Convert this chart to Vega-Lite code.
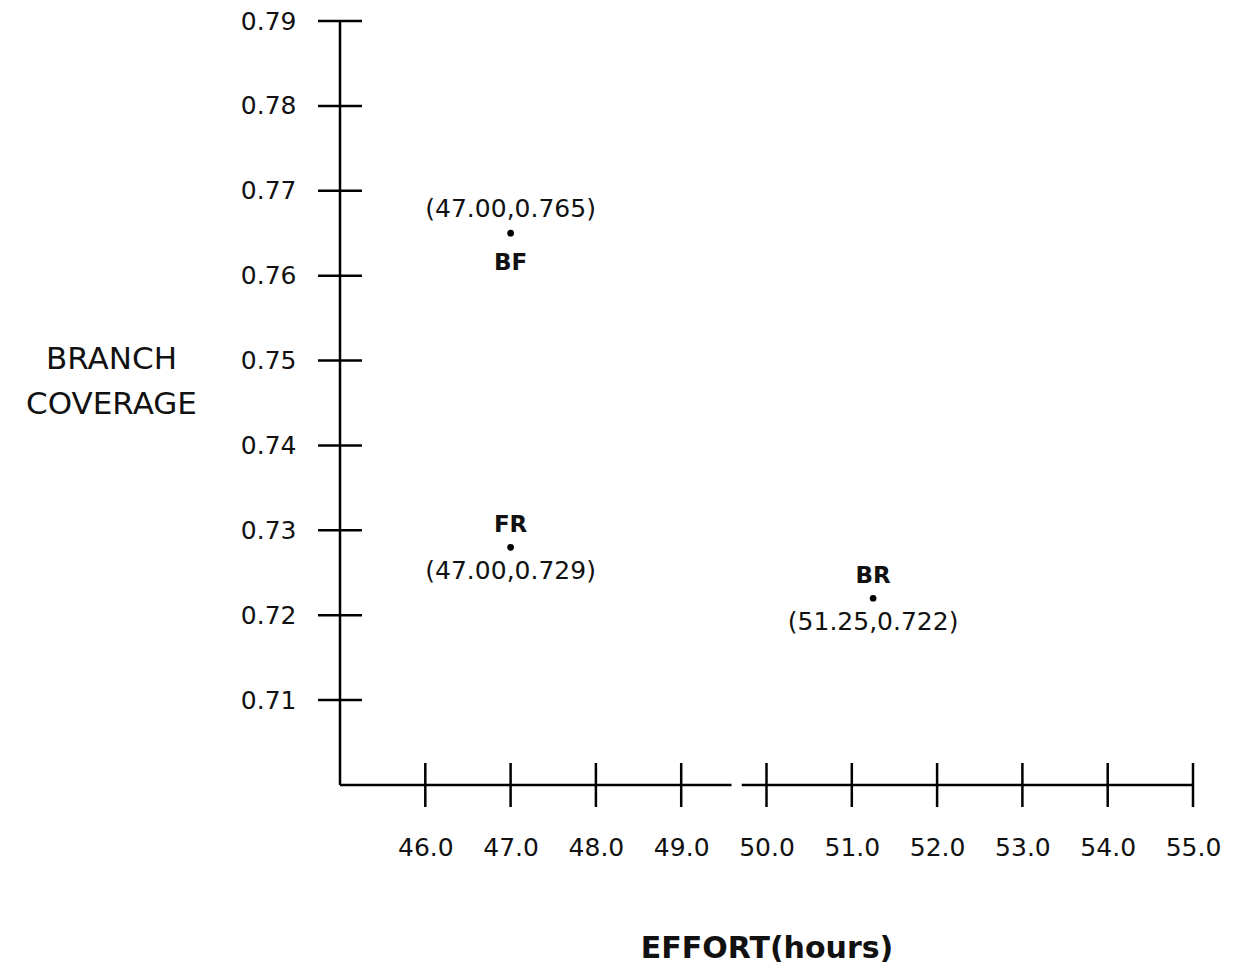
{
  "$schema": "https://vega.github.io/schema/vega-lite/v6.json",
  "autosize": "none",
  "width": 853,
  "height": 764,
  "padding": {"left": 340, "top": 21, "right": 41, "bottom": 188},
  "background": "white",
  "config": {"view": {"stroke": null}, "font": "DejaVu Sans"},
  "datasets": {
    "points": [
      {"effort": 47.0, "coverage": 0.765, "name": "BF", "coord": "(47.00,0.765)", "pos": "coord_above"},
      {"effort": 47.0, "coverage": 0.728, "name": "FR", "coord": "(47.00,0.729)", "pos": "coord_below"},
      {"effort": 51.25, "coverage": 0.722, "name": "BR", "coord": "(51.25,0.722)", "pos": "coord_below"}
    ],
    "yticks": [{"v": 0.71}, {"v": 0.72}, {"v": 0.73}, {"v": 0.74}, {"v": 0.75}, {"v": 0.76}, {"v": 0.77}, {"v": 0.78}, {"v": 0.79}],
    "xticks": [{"v": 46}, {"v": 47}, {"v": 48}, {"v": 49}, {"v": 50}, {"v": 51}, {"v": 52}, {"v": 53}, {"v": 54}, {"v": 55}],
    "xaxis": [{"a": 45, "b": 49.59}, {"a": 49.71, "b": 55}]
  },
  "layer": [
    {
      "data": {"name": "xaxis"},
      "mark": {"type": "rule", "strokeWidth": 2.5, "color": "black"},
      "encoding": {
        "x": {
          "field": "a", "type": "quantitative",
          "scale": {"domain": [45, 55], "nice": false, "zero": false},
          "axis": {
            "values": [46, 47, 48, 49, 50, 51, 52, 53, 54, 55],
            "format": ".1f", "domain": false, "ticks": false, "grid": false,
            "labelFlush": false, "labelOverlap": false, "labelBound": false,
            "labelPadding": 50, "labelFontSize": 25, "labelColor": "#111", "labelFont": "DejaVu Sans",
            "title": "EFFORT(hours)", "titleFontSize": 30, "titleFontWeight": "bold", "titleColor": "#111",
            "titleBaseline": "alphabetic", "titleY": 172, "titleX": 426.5, "titleAlign": "center"
          }
        },
        "x2": {"field": "b"},
        "y": {
          "datum": 0.70, "type": "quantitative",
          "scale": {"domain": [0.70, 0.79], "nice": false, "zero": false},
          "axis": {
            "values": [0.71, 0.72, 0.73, 0.74, 0.75, 0.76, 0.77, 0.78, 0.79],
            "format": ".2f", "domain": false, "ticks": false, "grid": false,
            "labelFlush": false, "labelOverlap": false, "labelBound": false,
            "labelPadding": 44, "labelFontSize": 25, "labelColor": "#111", "labelFont": "DejaVu Sans",
            "title": ["BRANCH", "COVERAGE"], "titleFontSize": 31, "titleFontWeight": "normal", "titleColor": "#111",
            "titleAngle": 0, "titleAlign": "center", "titleBaseline": "alphabetic",
            "titleX": -229, "titleY": 347, "titleLineHeight": 45
          }
        }
      }
    },
    {
      "data": {"values": [{"a": 0.70, "b": 0.79}]},
      "mark": {"type": "rule", "strokeWidth": 2.5, "color": "black"},
      "encoding": {
        "x": {"datum": 45, "type": "quantitative"},
        "y": {"field": "a", "type": "quantitative"},
        "y2": {"field": "b"}
      }
    },
    {
      "data": {"name": "yticks"},
      "mark": {"type": "tick", "orient": "horizontal", "size": 44, "thickness": 2.5, "color": "black", "opacity": 1},
      "encoding": {
        "x": {"datum": 45, "type": "quantitative"},
        "y": {"field": "v", "type": "quantitative"}
      }
    },
    {
      "data": {"name": "xticks"},
      "mark": {"type": "tick", "orient": "vertical", "size": 44, "thickness": 2.5, "color": "black", "opacity": 1},
      "encoding": {
        "x": {"field": "v", "type": "quantitative"},
        "y": {"datum": 0.70, "type": "quantitative"}
      }
    },
    {
      "data": {"name": "points"},
      "mark": {"type": "circle", "size": 45, "color": "black", "opacity": 1},
      "encoding": {
        "x": {"field": "effort", "type": "quantitative"},
        "y": {"field": "coverage", "type": "quantitative"}
      }
    },
    {
      "data": {"name": "points"},
      "transform": [{"filter": "datum.pos === 'coord_above'"}],
      "mark": {"type": "text", "fontSize": 25, "dy": -16, "baseline": "alphabetic", "color": "#111"},
      "encoding": {
        "x": {"field": "effort", "type": "quantitative"},
        "y": {"field": "coverage", "type": "quantitative"},
        "text": {"field": "coord"}
      }
    },
    {
      "data": {"name": "points"},
      "transform": [{"filter": "datum.pos === 'coord_above'"}],
      "mark": {"type": "text", "fontSize": 23, "fontWeight": "bold", "dy": 37, "baseline": "alphabetic", "color": "#111"},
      "encoding": {
        "x": {"field": "effort", "type": "quantitative"},
        "y": {"field": "coverage", "type": "quantitative"},
        "text": {"field": "name"}
      }
    },
    {
      "data": {"name": "points"},
      "transform": [{"filter": "datum.pos === 'coord_below'"}],
      "mark": {"type": "text", "fontSize": 23, "fontWeight": "bold", "dy": -15, "baseline": "alphabetic", "color": "#111"},
      "encoding": {
        "x": {"field": "effort", "type": "quantitative"},
        "y": {"field": "coverage", "type": "quantitative"},
        "text": {"field": "name"}
      }
    },
    {
      "data": {"name": "points"},
      "transform": [{"filter": "datum.pos === 'coord_below'"}],
      "mark": {"type": "text", "fontSize": 25, "dy": 32, "baseline": "alphabetic", "color": "#111"},
      "encoding": {
        "x": {"field": "effort", "type": "quantitative"},
        "y": {"field": "coverage", "type": "quantitative"},
        "text": {"field": "coord"}
      }
    }
  ]
}
